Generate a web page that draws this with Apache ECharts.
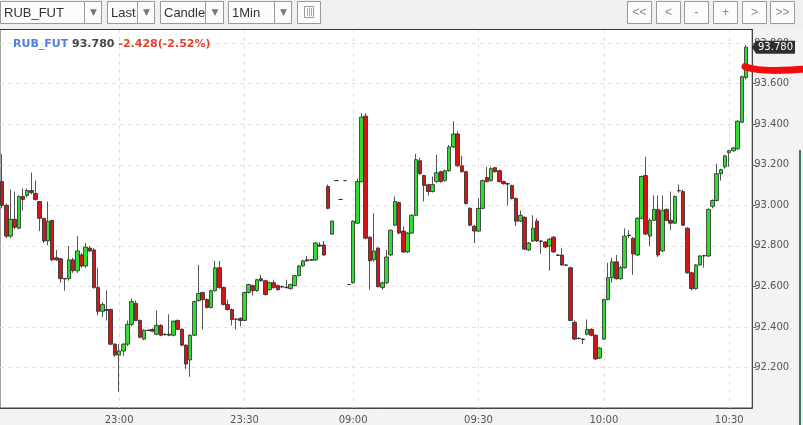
<!DOCTYPE html>
<html><head><meta charset="utf-8">
<script src="https://cdn.jsdelivr.net/npm/echarts@6/dist/echarts.min.js"></script>
<style>html,body{margin:0;padding:0;background:#f3f3f3;}#c{width:803px;height:425px;}</style>
</head><body><div id="c"></div>
<script>
const symbol = 'RUB_FUT';
const sessions = [['22:32','23:49'], ['08:54','10:35']];
const timeTicks = ['23:00','23:30','09:00','09:30','10:00','10:30'];
const opens = [93.117,93.000,92.848,92.931,92.887,93.044,93.049,93.073,93.058,93.019,
92.936,92.824,92.926,92.741,92.736,92.636,92.638,92.731,92.677,92.755,
92.701,92.789,92.780,92.594,92.477,92.481,92.486,92.315,92.261,92.281,
92.315,92.413,92.516,92.432,92.340,92.384,92.388,92.364,92.408,92.362,
92.364,92.359,92.432,92.388,92.310,92.237,92.359,92.530,92.570,92.535,
92.496,92.579,92.692,92.594,92.511,92.486,92.437,92.442,92.432,92.570,
92.604,92.579,92.638,92.628,92.584,92.618,92.604,92.599,92.594,92.589,
92.604,92.653,92.701,92.731,92.729,92.731,92.804,92.804,93.093,92.858,
93.122,93.029,93.122,92.609,92.618,92.912,93.117,93.440,92.843,92.731,
92.789,92.594,92.618,92.755,92.902,93.014,92.873,92.770,92.863,92.951,
93.220,93.147,93.102,93.068,93.117,93.166,93.122,93.171,93.288,93.352,
93.195,93.166,92.985,92.897,92.873,92.985,93.137,93.122,93.186,93.171,
93.117,93.107,93.098,93.034,92.922,92.941,92.780,92.824,92.922,92.824,
92.819,92.799,92.843,92.755,92.755,92.706,92.692,92.423,92.344,92.340,
92.364,92.388,92.359,92.247,92.340,92.535,92.643,92.721,92.638,92.692,
92.853,92.838,92.755,92.936,93.147,92.848,92.926,92.980,92.775,92.980,
92.926,92.912,93.071,93.068,92.887,92.667,92.589,92.706,92.750,92.750,
92.995,93.024,93.156,93.190,93.259,93.269,93.279,93.410,93.631];
const closes = [93.000,92.848,92.931,92.892,93.044,93.029,93.073,93.063,93.029,92.936,
92.824,92.922,92.731,92.731,92.638,92.640,92.731,92.677,92.775,92.701,
92.794,92.775,92.594,92.477,92.511,92.486,92.315,92.261,92.281,92.315,
92.413,92.525,92.432,92.349,92.384,92.382,92.379,92.408,92.359,92.364,
92.359,92.428,92.388,92.310,92.217,92.359,92.525,92.565,92.535,92.496,
92.579,92.692,92.594,92.511,92.486,92.437,92.439,92.432,92.570,92.609,
92.579,92.633,92.628,92.560,92.618,92.594,92.584,92.597,92.596,92.609,
92.653,92.701,92.726,92.726,92.731,92.814,92.799,92.755,92.985,92.922,
93.122,93.029,93.122,92.609,92.922,93.117,93.435,92.838,92.726,92.775,
92.599,92.618,92.745,92.877,93.019,92.863,92.770,92.863,92.951,93.225,
93.156,93.098,93.068,93.102,93.161,93.117,93.171,93.288,93.352,93.195,
93.166,93.009,92.902,92.873,92.985,93.122,93.117,93.181,93.166,93.117,
93.107,93.105,93.034,92.922,92.951,92.784,92.814,92.887,92.824,92.822,
92.794,92.833,92.770,92.753,92.706,92.704,92.432,92.340,92.342,92.338,
92.388,92.359,92.242,92.296,92.535,92.643,92.721,92.638,92.692,92.848,
92.851,92.760,92.936,93.142,92.858,92.926,92.980,92.755,92.975,92.926,
92.912,93.044,93.073,92.902,92.667,92.589,92.706,92.750,92.752,92.980,
93.024,93.156,93.176,93.244,93.269,93.283,93.415,93.635,93.780];
const lows = [92.985,92.838,92.838,92.882,92.882,92.975,93.039,93.054,93.024,92.873,
92.814,92.804,92.726,92.726,92.618,92.579,92.628,92.667,92.667,92.692,
92.692,92.770,92.589,92.457,92.447,92.432,92.310,92.252,92.080,92.257,
92.305,92.403,92.428,92.344,92.335,92.379,92.374,92.359,92.354,92.357,
92.354,92.354,92.384,92.305,92.193,92.154,92.354,92.525,92.388,92.491,
92.491,92.574,92.589,92.506,92.481,92.408,92.388,92.403,92.428,92.565,
92.555,92.574,92.623,92.555,92.579,92.589,92.579,92.594,92.589,92.584,
92.599,92.648,92.697,92.721,92.726,92.726,92.794,92.750,92.980,92.853,
93.122,93.029,93.122,92.609,92.613,92.907,93.112,92.833,92.584,92.721,
92.594,92.584,92.613,92.750,92.897,92.858,92.765,92.765,92.858,92.946,
93.151,93.019,93.049,93.063,93.112,93.112,93.117,93.166,93.283,93.190,
93.161,93.004,92.897,92.814,92.868,92.980,93.112,93.117,93.161,93.112,
93.102,93.000,93.029,92.897,92.917,92.780,92.775,92.819,92.819,92.760,
92.789,92.677,92.765,92.750,92.701,92.701,92.428,92.335,92.340,92.315,
92.359,92.354,92.237,92.242,92.335,92.530,92.618,92.633,92.633,92.687,
92.838,92.657,92.750,92.931,92.853,92.799,92.922,92.745,92.770,92.922,
92.877,92.907,93.063,92.897,92.662,92.579,92.584,92.701,92.692,92.745,
92.985,93.019,93.122,93.181,93.190,93.264,93.274,93.406,93.621];
const highs = [93.254,93.009,93.078,93.068,93.049,93.083,93.083,93.161,93.122,93.019,
92.936,93.019,92.926,92.780,92.741,92.641,92.799,92.741,92.848,92.765,
92.814,92.799,92.789,92.692,92.521,92.579,92.491,92.320,92.315,92.320,
92.432,92.540,92.530,92.437,92.388,92.388,92.393,92.481,92.413,92.369,
92.462,92.432,92.437,92.393,92.315,92.364,92.530,92.706,92.574,92.540,
92.584,92.726,92.726,92.599,92.535,92.491,92.442,92.447,92.574,92.613,
92.609,92.638,92.657,92.633,92.623,92.633,92.609,92.604,92.633,92.613,
92.657,92.706,92.731,92.750,92.736,92.819,92.819,92.824,93.102,92.926,
93.122,93.029,93.122,92.609,92.926,93.132,93.455,93.455,92.848,92.961,
92.794,92.623,92.780,92.882,93.044,93.019,92.897,92.868,92.956,93.254,
93.235,93.151,93.107,93.142,93.249,93.171,93.176,93.298,93.415,93.366,
93.244,93.171,92.990,92.902,93.034,93.127,93.190,93.190,93.190,93.176,
93.122,93.112,93.102,93.039,92.975,92.946,92.819,92.951,92.936,92.829,
92.824,92.838,92.848,92.760,92.789,92.711,92.697,92.432,92.349,92.344,
92.437,92.393,92.364,92.301,92.540,92.716,92.741,92.755,92.701,92.887,
92.877,92.843,92.941,93.147,93.239,92.936,93.049,93.049,93.049,92.985,
93.068,93.049,93.102,93.078,92.892,92.672,92.711,92.755,92.755,92.985,
93.029,93.205,93.181,93.249,93.274,93.288,93.420,93.640,93.790];
const priceChange = -2.428;
const priceChangePct = -2.52;
const annotationPrice = 93.672;
const yMin = 92.0, yMax = 93.87, yStep = 0.2;

// minute categories for the two trading sessions
const categories = [];
sessions.forEach(([a, b]) => {
  const [h1, m1] = a.split(':').map(Number), [h2, m2] = b.split(':').map(Number);
  for (let t = h1 * 60 + m1; t <= h2 * 60 + m2; t++) {
    categories.push(String(Math.floor(t / 60)).padStart(2, '0') + ':' + String(t % 60).padStart(2, '0'));
  }
});
const candles = opens.map((o, i) => [o, closes[i], lows[i], highs[i]]);
const last = closes[closes.length - 1];
const showTick = (i, v) => timeTicks.includes(v);

const chart = echarts.init(document.getElementById('c'), null, {renderer: 'canvas'});
const F = 'DejaVu Sans';
chart.setOption({
  animation: false,
  backgroundColor: '#f3f3f3',
  title: {
    left: 8, top: 34,
    text: `{a|${symbol}} {b|${last.toFixed(3)}} {c|${priceChange.toFixed(3)}(${priceChangePct.toFixed(2)}%)}`,
    textStyle: {fontSize: 11, fontWeight: 'bold', fontFamily: F,
      rich: {
        a: {color: '#4f7fe0', fontSize: 11, fontWeight: 'bold', fontFamily: F},
        b: {color: '#474747', fontSize: 11, fontWeight: 'bold', fontFamily: F},
        c: {color: '#e5402b', fontSize: 11, fontWeight: 'bold', fontFamily: F}
      }}
  },
  grid: {left: -1.8, top: 29, width: 754, bottom: 15, show: true, backgroundColor: '#fff', borderColor: '#444', borderWidth: 1},
  xAxis: {
    type: 'category', data: categories, boundaryGap: true,
    axisLine: {lineStyle: {color: '#444'}},
    axisTick: {alignWithLabel: true, interval: showTick, length: 4, lineStyle: {color: '#444'}},
    axisLabel: {interval: showTick, color: '#555', fontFamily: F, fontSize: 10, margin: 7},
    splitLine: {show: true, interval: showTick, alignWithLabel: true, lineStyle: {color: '#e2e2e2', type: [4, 4]}}
  },
  yAxis: {
    type: 'value', position: 'right', min: yMin, max: yMax, interval: yStep,
    axisLine: {show: true, lineStyle: {color: '#444'}},
    axisTick: {show: true, length: 4, lineStyle: {color: '#666'}},
    axisLabel: {color: '#555', fontFamily: F, fontSize: 10, margin: 2, showMinLabel: false, showMaxLabel: false,
      formatter: v => v.toFixed(3)},
    splitLine: {show: true, lineStyle: {color: '#e2e2e2', type: [4, 4]}}
  },
  series: [{
    type: 'candlestick', data: candles, barWidth: 4,
    itemStyle: {color: '#2fdc2f', color0: '#d01616', borderColor: '#2a2a2a', borderColor0: '#2a2a2a', borderWidth: 0.8}
  }]
});

const yLast = chart.convertToPixel({yAxisIndex: 0}, last);
const yAnn = chart.convertToPixel({yAxisIndex: 0}, annotationPrice);
const TF = '13px "Liberation Sans", Arial, sans-serif';
const g = [];
g.push({type: 'rect', shape: {x: 0, y: 0, width: 803, height: 29}, style: {fill: '#f0f0f0'}, z: 10});
g.push({type: 'line', shape: {x1: 0, y1: 29.5, x2: 752, y2: 29.5}, style: {stroke: '#333', lineWidth: 1}, z: 11});
function dropdown(x, x2, div, label) {
  g.push({type: 'rect', shape: {x: x + 0.5, y: 1.5, width: x2 - x, height: 22}, style: {fill: '#fcfcfc', stroke: '#9a9a9a', lineWidth: 1}, z: 11});
  g.push({type: 'text', x: x + 4, y: 13, style: {text: label, font: TF, fill: '#333', textAlign: 'left', textVerticalAlign: 'middle', align: 'left', verticalAlign: 'middle'}, z: 12});
  g.push({type: 'rect', shape: {x: div + 0.5, y: 1.5, width: x2 - div, height: 22}, style: {fill: '#fcfcfc', stroke: '#9a9a9a', lineWidth: 1}, z: 13});
  g.push({type: 'text', x: (div + x2) / 2 + 1, y: 13, style: {text: '▼', font: '9px "DejaVu Sans"', fill: '#777', textAlign: 'center', textVerticalAlign: 'middle', align: 'center', verticalAlign: 'middle'}, z: 14});
}
dropdown(0, 101, 84, 'RUB_FUT');
dropdown(107, 154, 137, 'Last');
dropdown(160, 223, 205, 'Candle');
dropdown(228, 291, 274, '1Min');
g.push({type: 'rect', shape: {x: 297.5, y: 1.5, width: 23, height: 22}, style: {fill: '#fcfcfc', stroke: '#9a9a9a', lineWidth: 1}, z: 11});
g.push({type: 'rect', shape: {x: 304.5, y: 6.5, width: 9, height: 11}, style: {fill: 'none', stroke: '#999', lineWidth: 1}, z: 12});
[307, 309, 311].forEach(xx => g.push({type: 'line', shape: {x1: xx + 0.5, y1: 8, x2: xx + 0.5, y2: 16}, style: {stroke: '#aaa', lineWidth: 1}, z: 12}));
const navBtns = [[627, '<<'], [656, '<'], [684, '-'], [713, '+'], [742, '>'], [770, '>>']];
navBtns.forEach(([x, t]) => {
  g.push({type: 'rect', shape: {x: x + 0.5, y: 1.5, width: 24, height: 22}, style: {fill: '#fcfcfc', stroke: '#9a9a9a', lineWidth: 1}, z: 11});
  g.push({type: 'text', x: x + 12.5, y: 13, style: {text: t, font: '12px "Liberation Sans", Arial', fill: '#888', textAlign: 'center', textVerticalAlign: 'middle', align: 'center', verticalAlign: 'middle'}, z: 12});
});
// last price tag
g.push({type: 'polygon', shape: {points: [[752, yLast], [756, yLast - 6.5], [795, yLast - 6.5], [795, yLast + 6.5], [756, yLast + 6.5]]}, style: {fill: '#2e2e2e'}, z: 20});
g.push({type: 'text', x: 775.5, y: yLast + 0.5, style: {text: last.toFixed(3), font: '10px "DejaVu Sans"', fill: '#fff', textAlign: 'center', textVerticalAlign: 'middle', align: 'center', verticalAlign: 'middle'}, z: 21});
// hand-drawn red annotation
g.push({type: 'polyline', shape: {points: [[745, yAnn - 2.5], [752, yAnn - 0.5], [765, yAnn + 1], [782, yAnn + 1.2], [803, yAnn + 0.2]], smooth: 0.4}, style: {stroke: '#f20d0d', lineWidth: 7, lineCap: 'round', fill: null}, z: 30});
// right edge line
g.push({type: 'line', shape: {x1: 800, y1: 150, x2: 800, y2: 425}, style: {stroke: '#3c7a5c', lineWidth: 2}, z: 5});
chart.setOption({graphic: g});
</script></body></html>
